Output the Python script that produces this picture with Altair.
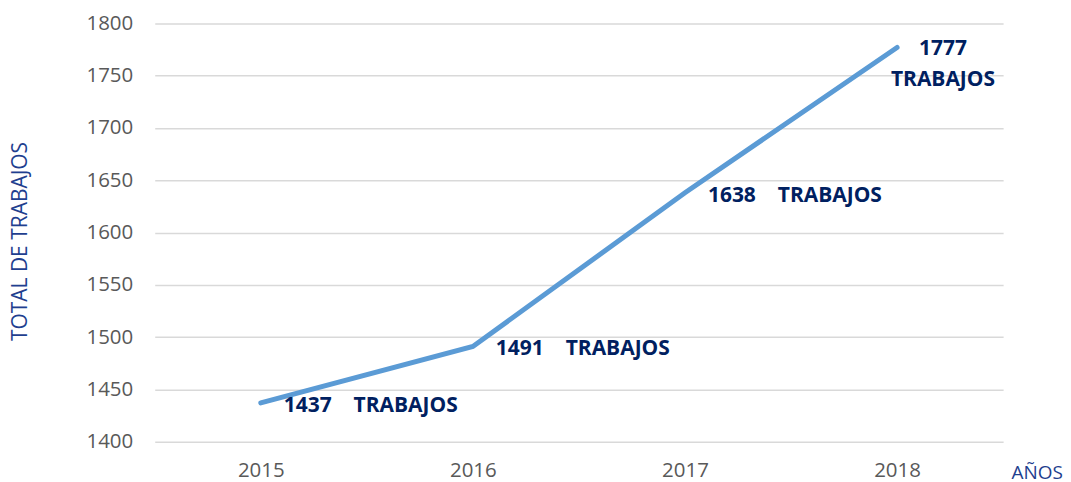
import altair as alt
import pandas as pd

years = ["2015", "2016", "2017", "2018"]
totals = [1437, 1491, 1638, 1777]
unit = "TRABAJOS"

df = pd.DataFrame({"year": years, "total": totals})
df["unit"] = unit

FONT = "Open Sans"
NAVY = "#002060"
TITLEC = "#1F3F8F"

x = alt.X("year:O", title="AÑOS",
          scale=alt.Scale(type="point", padding=0.5),
          axis=alt.Axis(labelAngle=0, ticks=False, domain=False, grid=False,
                        labelPadding=19, labelFontSize=20.5, labelColor="#595959",
                        labelFont=FONT, titleFont=FONT, titleFontSize=19,
                        titleFontWeight="normal", titleColor=TITLEC,
                        titleAnchor="end", titleAlign="left", titleBaseline="middle",
                        titleX=858, titleY=31))
y = alt.Y("total:Q", title="TOTAL DE TRABAJOS",
          scale=alt.Scale(domain=[1400, 1800], nice=False, zero=False),
          axis=alt.Axis(values=list(range(1400, 1801, 50)), format="d", ticks=False,
                        domain=False, labelPadding=22, labelFontSize=20.5,
                        labelColor="#595959", labelFont=FONT, titleFont=FONT,
                        titleFontSize=21, titleFontWeight="normal", titleColor=TITLEC,
                        titleAngle=270, titleX=-134, titleY=218, titleAlign="center",
                        titleBaseline="middle",
                        gridColor="#D9D9D9", gridWidth=1.5))

base = alt.Chart(df)

line = base.mark_line(color="#5B9BD5", strokeWidth=5, strokeCap="round").encode(x=x, y=y)

first = base.transform_filter(alt.datum.year != "2018")
num = first.mark_text(align="left", baseline="top", dx=23, dy=-8, font=FONT,
                      fontSize=21, fontWeight="bold", color=NAVY).encode(
    x=x, y=y, text="total:Q")
word = first.mark_text(align="left", baseline="top", dx=93, dy=-8, font=FONT,
                       fontSize=21, fontWeight="bold", color=NAVY).encode(
    x=x, y=y, text="unit:N")
last = base.transform_filter(alt.datum.year == "2018").transform_calculate(
    lab="toString(datum.total) + '\\n' + datum.unit")
lastlab = last.mark_text(align="center", baseline="top", dx=46, dy=-9, font=FONT,
                         fontSize=21, fontWeight="bold", color=NAVY, lineBreak="\n",
                         lineHeight=31).encode(x=x, y=y, text="lab:N")

chart = alt.layer(line, num, word, lastlab).properties(
    width=850, height=419,
    autosize=alt.AutoSizeParams(type="none"),
    padding={"left": 147, "top": 15, "right": 60, "bottom": 48},
    background="white"
).configure_view(stroke=None)

chart.save("out.html", embed_options={"renderer": "svg", "actions": False})
